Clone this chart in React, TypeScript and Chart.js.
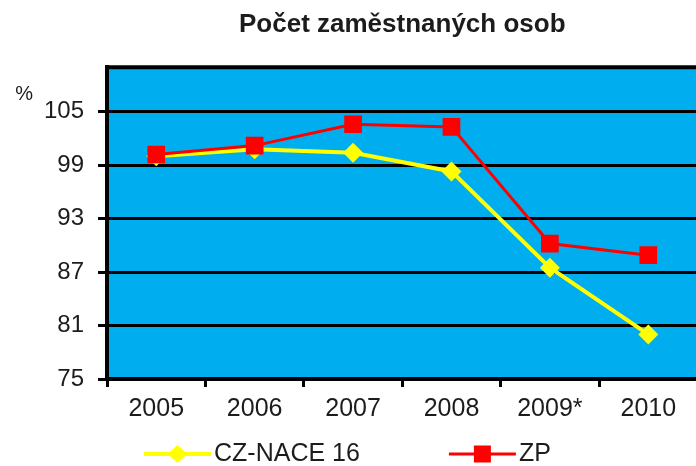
import React, { useEffect, useRef } from 'react';
import { Chart, registerables } from 'chart.js';

Chart.register(...registerables);

const categories = ['2005', '2006', '2007', '2008', '2009*', '2010'];
const czNace16 = [100.0, 100.8, 100.4, 98.3, 87.5, 80.0];
const zpValues = [100.2, 101.2, 103.6, 103.3, 90.2, 88.9];
const yTickValues = [75, 81, 87, 93, 99, 105];
const yMin = 75;
const yMax = 110;
const seriesNames = ['CZ-NACE 16', 'ZP'];
const seriesColors = ['#FFFF00', '#FF0000'];
const seriesMarkers = ['rectRot', 'rect'];
const titleText = 'Počet zaměstnaných osob';
const yUnitLabel = '%';

const FONT = "'Liberation Sans', Arial, sans-serif";
const TEXT_COLOR = '#1c1c1c';
const PLOT_BG = '#00AEEF';

const plotDecor = {
  id: 'plotDecor',
  beforeDraw(chart: any) {
    const { ctx, chartArea } = chart;
    ctx.save();
    ctx.fillStyle = PLOT_BG;
    ctx.fillRect(chartArea.left, chartArea.top, chartArea.right - chartArea.left, chartArea.bottom - chartArea.top);
    ctx.restore();
  },
  beforeDatasetsDraw(chart: any) {
    const { ctx, chartArea } = chart;
    ctx.save();
    ctx.strokeStyle = '#000';
    ctx.lineWidth = 4;
    ctx.beginPath();
    ctx.moveTo(chartArea.left - 2, chartArea.top);
    ctx.lineTo(chartArea.right, chartArea.top);
    ctx.stroke();
    ctx.restore();
  },
  afterDraw(chart: any) {
    const { ctx, chartArea } = chart;
    ctx.save();
    // unit label
    ctx.fillStyle = TEXT_COLOR;
    ctx.font = `20px ${FONT}`;
    ctx.textAlign = 'center';
    ctx.textBaseline = 'middle';
    ctx.fillText(yUnitLabel, chartArea.left - 83, chartArea.top + 27);

    // legend
    const y = chartArea.bottom + 75;
    let x = chartArea.left + 37;
    const lineLen = 67;
    ctx.font = `25px ${FONT}`;
    ctx.textAlign = 'left';
    chart.data.datasets.forEach((ds: any, i: number) => {
      ctx.strokeStyle = seriesColors[i];
      ctx.lineWidth = i === 0 ? 4 : 3;
      ctx.beginPath();
      ctx.moveTo(x, y);
      ctx.lineTo(x + lineLen, y);
      ctx.stroke();
      ctx.fillStyle = seriesColors[i];
      const cx = x + lineLen / 2;
      ctx.beginPath();
      if (seriesMarkers[i] === 'rectRot') {
        ctx.moveTo(cx - 10, y);
        ctx.lineTo(cx, y - 9);
        ctx.lineTo(cx + 10, y);
        ctx.lineTo(cx, y + 9);
        ctx.closePath();
      } else {
        ctx.rect(cx - 8.5, y - 8.5, 17, 17);
      }
      ctx.fill();
      ctx.fillStyle = TEXT_COLOR;
      ctx.fillText(seriesNames[i], x + lineLen + 3, y);
      const w = ctx.measureText(seriesNames[i]).width;
      x = x + lineLen + 3 + w + 89;
    });
    ctx.restore();
  },
};

export default function App() {
  const canvasRef = useRef<HTMLCanvasElement | null>(null);

  useEffect(() => {
    const canvas = canvasRef.current;
    if (!canvas) return;
    const chart = new Chart(canvas, {
      type: 'line',
      data: {
        labels: categories,
        datasets: [
          {
            label: seriesNames[0],
            data: czNace16,
            borderColor: seriesColors[0],
            backgroundColor: seriesColors[0],
            borderWidth: 4,
            pointStyle: seriesMarkers[0] as any,
            pointRadius: 10,
            pointBorderWidth: 0,
            pointBackgroundColor: seriesColors[0],
            tension: 0,
            order: 2,
          },
          {
            label: seriesNames[1],
            data: zpValues,
            borderColor: seriesColors[1],
            backgroundColor: seriesColors[1],
            borderWidth: 3,
            pointStyle: seriesMarkers[1] as any,
            pointRadius: 12.5,
            pointBorderWidth: 0,
            pointBackgroundColor: seriesColors[1],
            tension: 0,
            order: 1,
          },
        ],
      },
      options: {
        responsive: false,
        animation: false,
        layout: { padding: { left: 30, right: 0, top: 0, bottom: 35 } },
        plugins: {
          legend: { display: false },
          tooltip: { enabled: false },
          title: {
            display: true,
            text: titleText,
            fullSize: false,
            color: TEXT_COLOR,
            font: { family: FONT, size: 26, weight: 'bold' },
            padding: { top: 9, bottom: 27 },
          },
        },
        scales: {
          x: {
            type: 'category',
            offset: true,
            grid: {
              offset: true,
              drawOnChartArea: false,
              drawTicks: true,
              tickLength: 8,
              tickWidth: 3,
              tickColor: '#000',
              color: '#000',
            },
            border: { display: true, color: '#000', width: 4 },
            ticks: {
              color: TEXT_COLOR,
              font: { family: FONT, size: 25 },
              padding: 7,
              maxRotation: 0,
              autoSkip: false,
            },
          },
          y: {
            type: 'linear',
            min: yMin,
            max: yMax,
            afterBuildTicks: (scale: any) => {
              scale.ticks = yTickValues.map((v) => ({ value: v }));
            },
            grid: {
              color: '#000',
              lineWidth: 3,
              drawTicks: true,
              tickLength: 9,
              tickWidth: 3,
              tickColor: '#000',
            },
            border: { display: true, color: '#000', width: 4 },
            ticks: {
              color: TEXT_COLOR,
              font: { family: FONT, size: 24 },
              padding: 14,
            },
          },
        },
      },
      plugins: [plotDecor],
    });
    return () => chart.destroy();
  }, []);

  return (
    <div style={{ position: 'fixed', left: 0, top: 0, width: 696, height: 466, overflow: 'hidden', background: '#fff' }}>
      <canvas ref={canvasRef} width={710} height={466} style={{ display: 'block' }} />
    </div>
  );
}
